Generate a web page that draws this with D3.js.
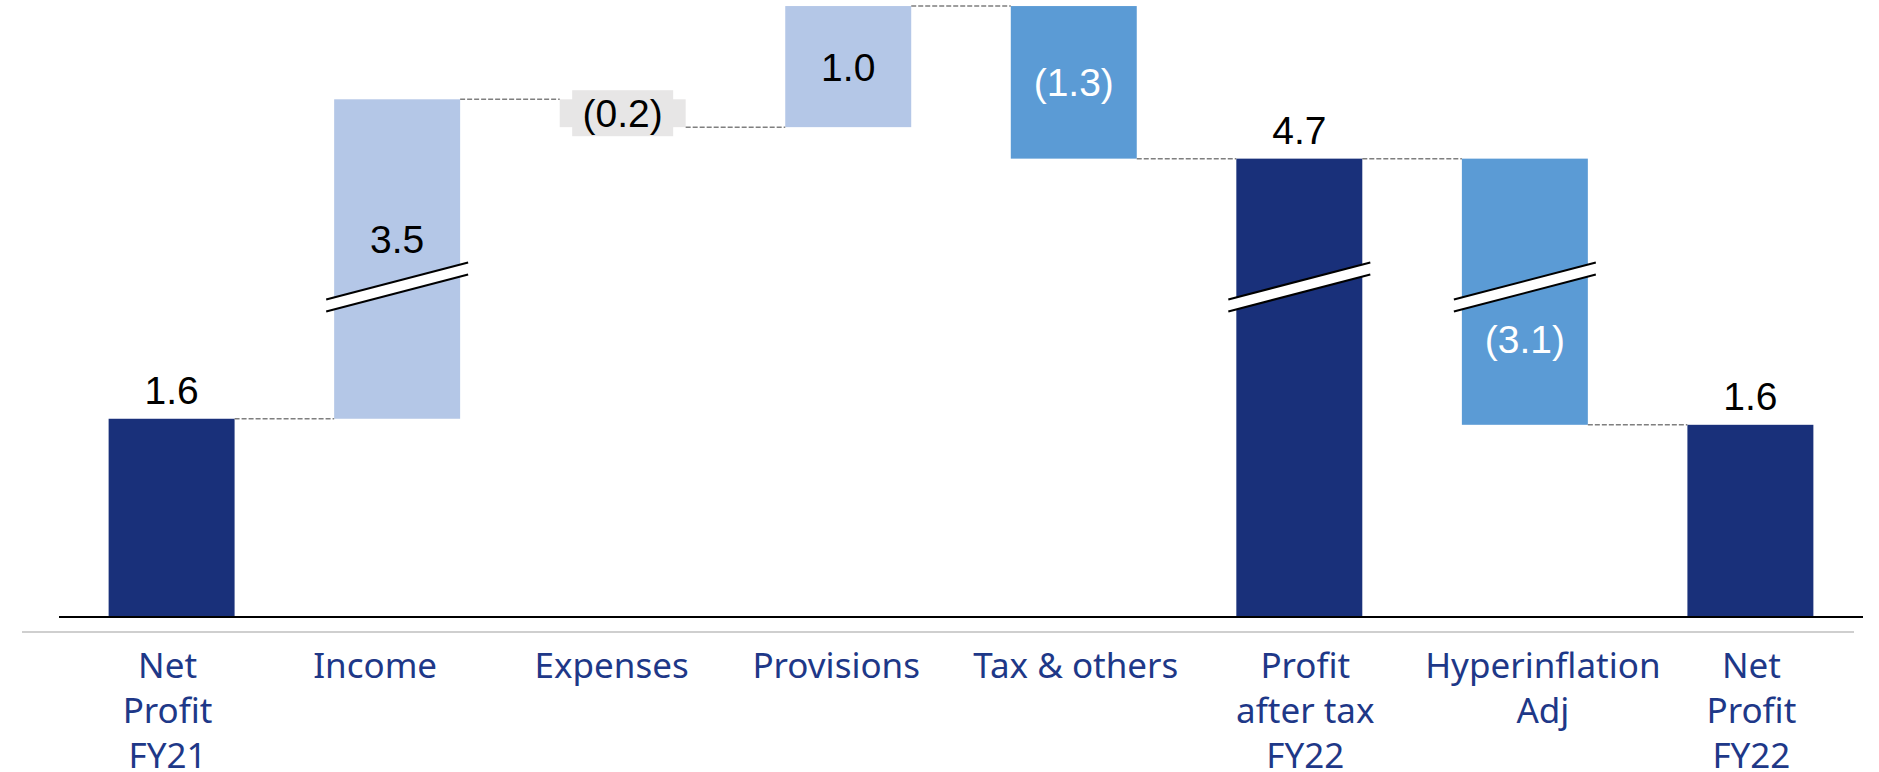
<!DOCTYPE html>
<html><head><meta charset="utf-8">
<script src="https://cdn.jsdelivr.net/npm/d3@7"></script>
<style>body{margin:0;background:#fff}svg{display:block}</style>
</head><body>
<svg id="c" width="1879" height="772"></svg>
<script>
// ---- data ----
const categories = ["Net Profit FY21","Income","Expenses","Provisions","Tax & others","Profit after tax FY22","Hyperinflation Adj","Net Profit FY22"];
const categoryLines = [["Net","Profit","FY21"],["Income"],["Expenses"],["Provisions"],["Tax & others"],["Profit","after tax","FY22"],["Hyperinflation","Adj"],["Net","Profit","FY22"]];
const kinds = ["total","delta","delta","delta","delta","total","delta","total"];
const values = [1.64, 3.54, -0.23, 1.00, -1.26, 4.69, -3.10, 1.59];
const axisBreak = [2.73, 3.63];   // value range hidden by the break marks
const yMax = 6.0;

// ---- style / layout ----
const barFill = ["#19307a","#b4c7e7","#e7e6e6","#b4c7e7","#5b9bd5","#19307a","#5b9bd5","#19307a"];
const textFill = ["#000","#000","#000","#000","#fff","#000","#fff","#000"];
const catNudge = [-4, -22, -11, -12, 2, 6, 18, 1];   // manual text-box offsets in the source slide
const catColor = "#1e3888";

const svg = d3.select("#c");

// compute waterfall extents
let running = 0;
const bars = values.map((v, i) => {
  let a, b;
  if (kinds[i] === "total") { a = 0; b = v; running = v; }
  else { a = running; b = running + v; running = b; }
  return {i, cat: categories[i], v, lo: Math.min(a,b), hi: Math.max(a,b), level: running};
});
const broken = bars.filter(d => d.lo < axisBreak[0] && d.hi > axisBreak[1]).map(d => d.i);

const x = d3.scaleBand().domain(categories).range([59, 1863]).paddingInner(0.4415).paddingOuter(0.22);
const baseY = 617, breakY = 287, topY = 0;
const y = d3.scaleLinear().domain([0, axisBreak[0], axisBreak[1], yMax]).range([baseY, breakY, breakY, topY]);

const fmt = d3.format(".1f");
const label = v => v < 0 ? "(" + fmt(-v) + ")" : fmt(v);

// bars
svg.append("g").selectAll("rect").data(bars).join("rect")
  .attr("x", d => x(d.cat)).attr("width", x.bandwidth())
  .attr("y", d => y(d.hi)).attr("height", d => y(d.lo) - y(d.hi))
  .attr("fill", d => barFill[d.i]);

// connectors
svg.append("g").selectAll("line").data(bars.slice(0, -1)).join("line")
  .attr("x1", d => x(d.cat) + x.bandwidth())
  .attr("x2", d => x(categories[d.i + 1]))
  .attr("y1", d => y(d.level)).attr("y2", d => y(d.level))
  .attr("stroke", "#7f7f7f").attr("stroke-width", 1.5).attr("stroke-dasharray", "5,2");

// axis lines
svg.append("line").attr("x1", 22).attr("x2", 1854).attr("y1", 632).attr("y2", 632)
  .attr("stroke", "#cfcfcf").attr("stroke-width", 2);
svg.append("line").attr("x1", 59).attr("x2", 1863).attr("y1", baseY).attr("y2", baseY)
  .attr("stroke", "#000").attr("stroke-width", 2.2);

// break marks
const bg = svg.append("g");
broken.forEach(i => {
  const L = x(categories[i]) - 8, R = x(categories[i]) + x.bandwidth() + 8;
  const dy = 18.5, gap = 6;
  bg.append("polygon")
    .attr("points", [[L, breakY + dy - gap],[R, breakY - dy - gap],[R, breakY - dy + gap],[L, breakY + dy + gap]].map(p => p.join(",")).join(" "))
    .attr("fill", "#fff");
  [-gap, gap].forEach(o => bg.append("line")
    .attr("x1", L).attr("y1", breakY + dy + o).attr("x2", R).attr("y2", breakY - dy + o)
    .attr("stroke", "#000").attr("stroke-width", 2));
});

// value labels
const fs = 39;
const lg = svg.append("g").attr("font-family", "'Liberation Sans', Arial, sans-serif").attr("font-size", fs).attr("text-anchor", "middle");
bars.forEach(d => {
  const cx = x(d.cat) + x.bandwidth() / 2;
  let baseline;
  if (kinds[d.i] === "total") baseline = y(d.hi) - 15;
  else if (broken.includes(d.i)) baseline = (d.v > 0 ? breakY - 48 : breakY + 52) + 0.36 * fs;
  else baseline = (y(d.hi) + y(d.lo)) / 2 + 0.36 * fs;
  if (d.i === 2) {
    lg.append("rect").attr("x", cx - 50.5).attr("y", baseline - 0.36 * fs - 23).attr("width", 101).attr("height", 46).attr("fill", barFill[d.i]);
  }
  lg.append("text").attr("x", cx).attr("y", baseline).attr("fill", textFill[d.i]).text(label(d.v));
});

// category labels
const cg = svg.append("g").attr("font-family", "'Noto Sans', sans-serif").attr("font-size", 35).attr("fill", catColor).attr("text-anchor", "middle");
categoryLines.forEach((lines, i) => {
  const cx = x(categories[i]) + x.bandwidth() / 2 + catNudge[i];
  const t = cg.append("text").attr("x", cx).attr("y", 678);
  lines.forEach((s, k) => t.append("tspan").attr("x", cx).attr("y", 678 + 45 * k).text(s));
});
</script>
</body></html>
